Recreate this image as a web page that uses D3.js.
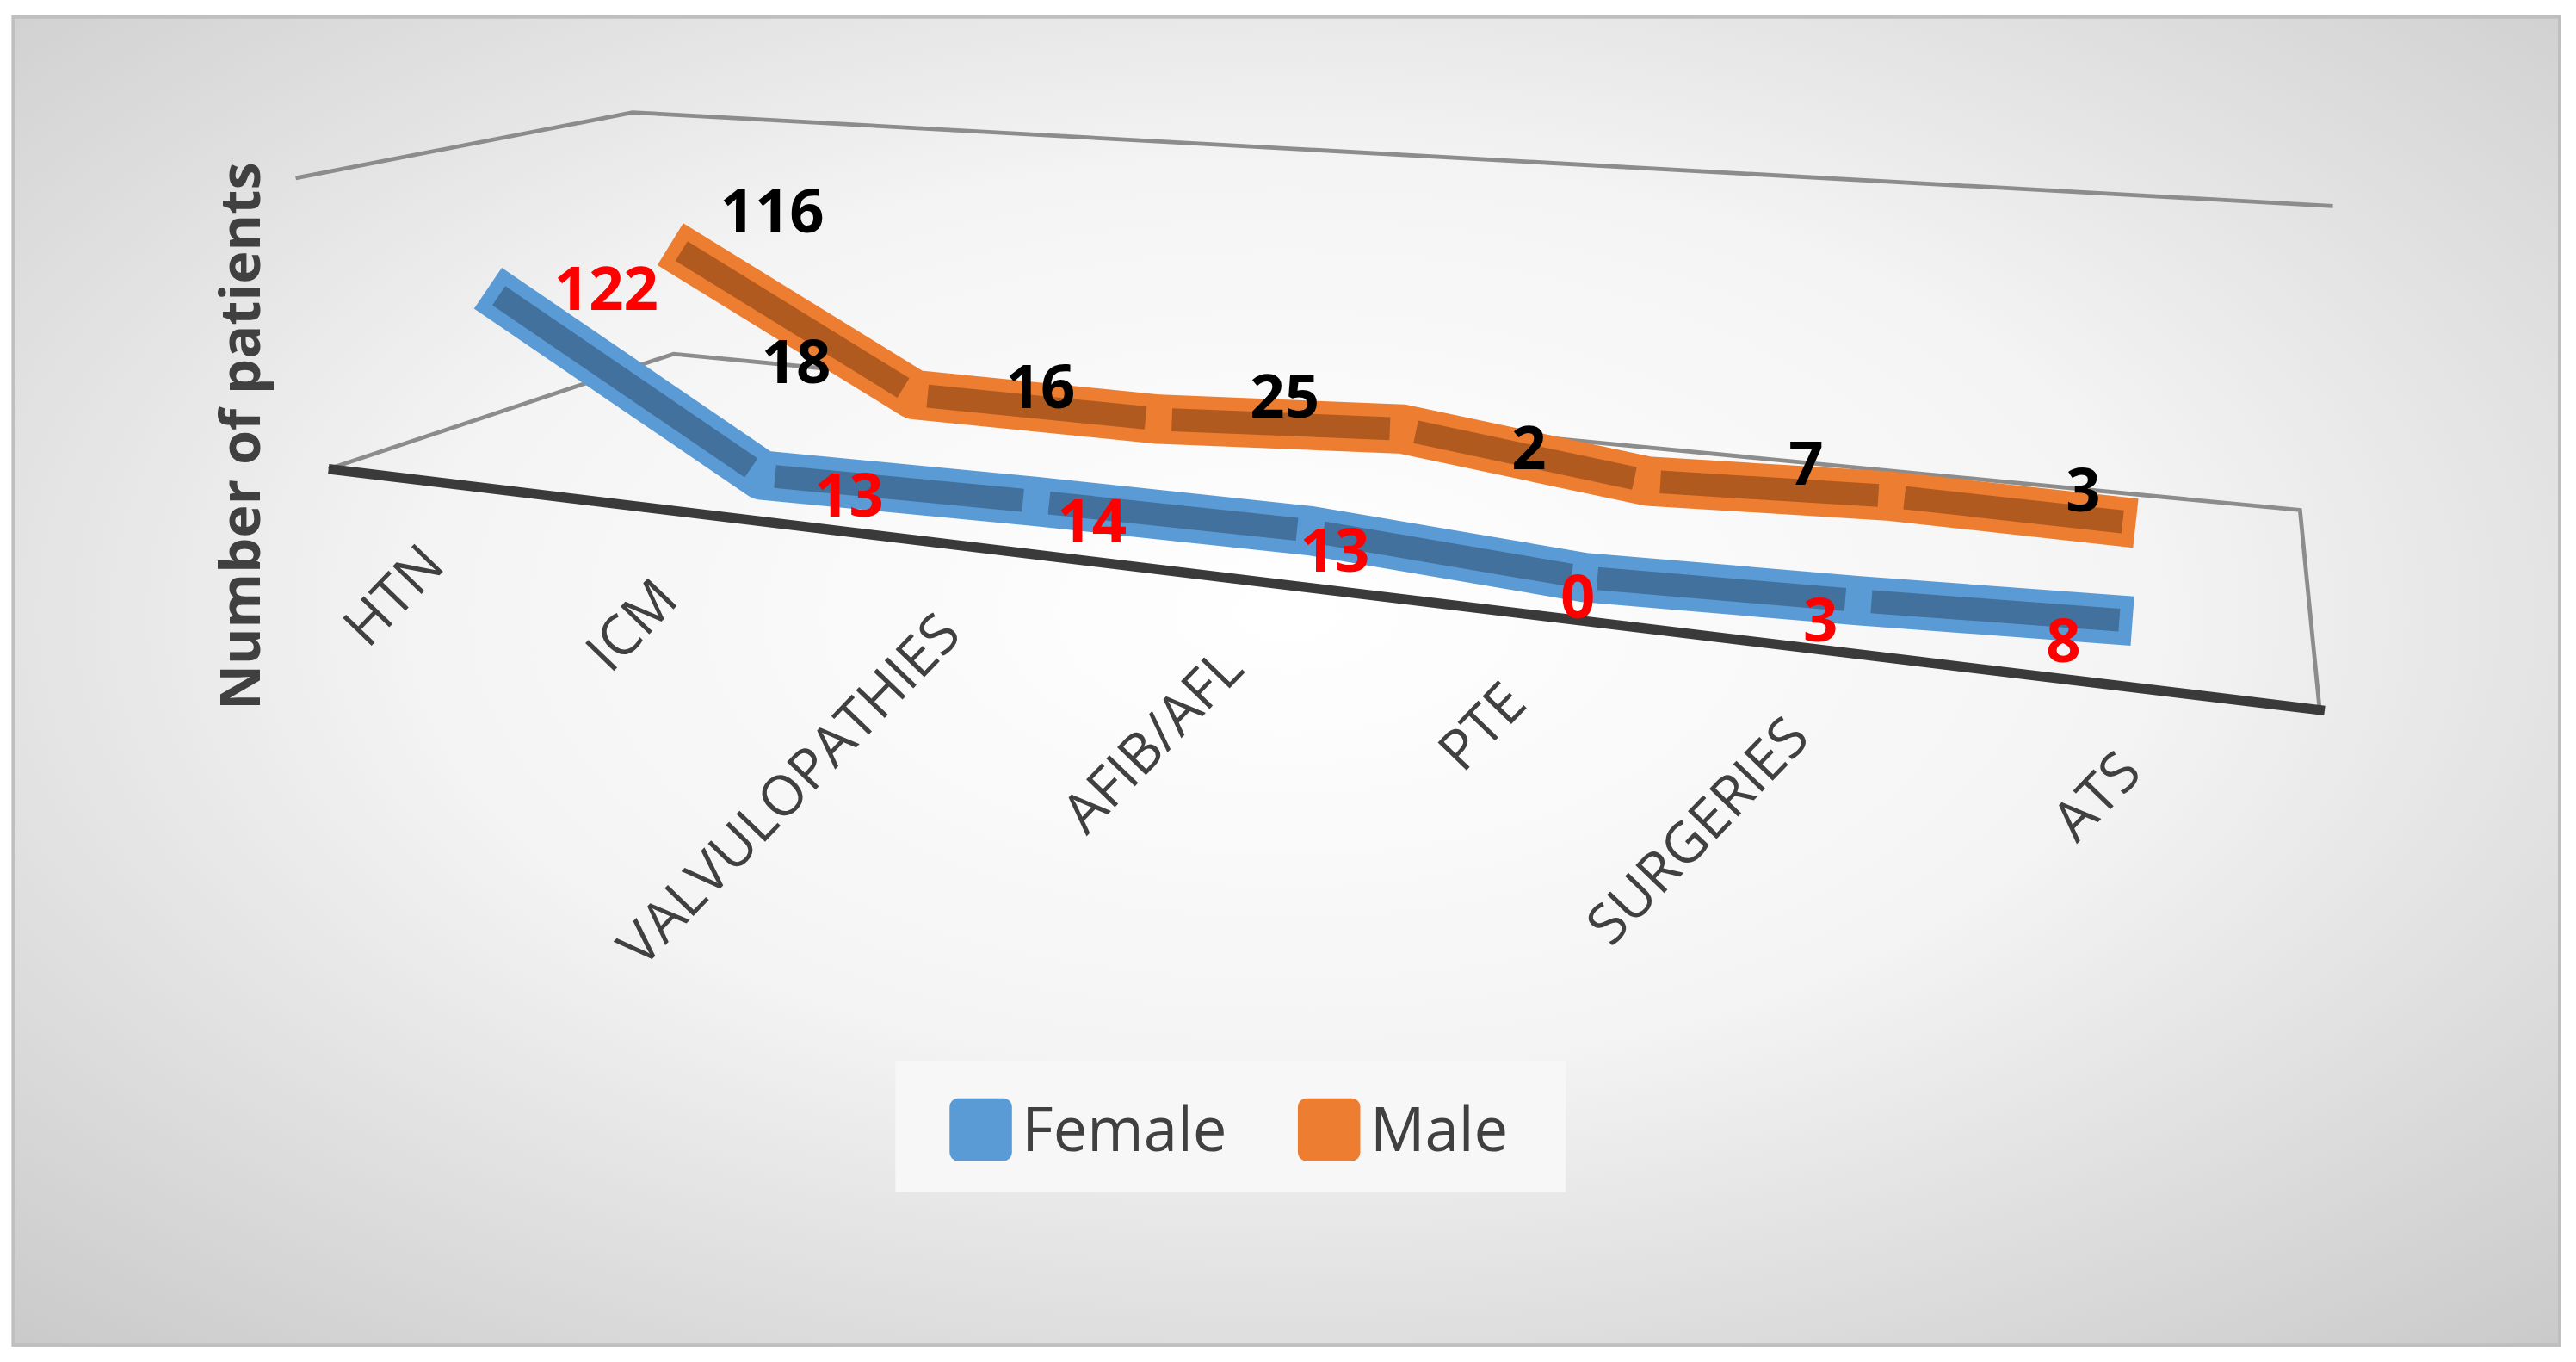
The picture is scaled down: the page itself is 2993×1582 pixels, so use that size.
<!DOCTYPE html>
<html><head><meta charset="utf-8">
<script src="https://cdn.jsdelivr.net/npm/d3@7"></script>
<style>html,body{margin:0;padding:0;background:#fff}</style>
</head><body>
<script>
const categories = ["HTN","ICM","VALVULOPATHIES","AFIB/AFL","PTE","SURGERIES","ATS"];
const female = [122,13,14,13,0,3,8];
const male = [116,18,16,25,2,7,3];
const seriesNames = ["Female","Male"];

const W = 1568, H = 828;
const svg = d3.select("body").append("svg")
  .attr("width", 2993).attr("height", 1582)
  .attr("viewBox", `0 0 ${W} ${H}`);

const defs = svg.append("defs");
const rg = defs.append("radialGradient").attr("id","bg").attr("cx","50%").attr("cy","45%").attr("r","75%");
rg.append("stop").attr("offset","0%").attr("stop-color","#ffffff");
rg.append("stop").attr("offset","45%").attr("stop-color","#f4f4f4");
rg.append("stop").attr("offset","100%").attr("stop-color","#c9c9c9");
svg.append("rect").attr("x",8).attr("y",10).attr("width",1550).attr("height",808)
  .attr("fill","url(#bg)").attr("stroke","#bfbfbf").attr("stroke-width",2);

const gray = "#8c8c8c";
const line = d3.line();
svg.append("path").attr("d", line([[180,108],[385,68],[1420,125]])).attr("fill","none").attr("stroke",gray).attr("stroke-width",2.5);
svg.append("path").attr("d", line([[200,285],[410,215],[1400,310],[1412,432]])).attr("fill","none").attr("stroke",gray).attr("stroke-width",2.5);
svg.append("path").attr("d", line([[200,285],[1415,432]])).attr("fill","none").attr("stroke","#3a3a3a").attr("stroke-width",6);

const specs = [
  {vals: female, x: d3.scalePoint().domain(categories).range([297,1298]), x0:440, y0:298, slope:0.101, k:0.89,
   outer:"#5B9BD5", inner:"#41719C", label:"#ff0000", ldx:i=>72-19*i, ldy:i=>i==0?0:12},
  {vals: male, x: d3.scalePoint().domain(categories).range([408,1300]), x0:520, y0:251, slope:0.089, k:0.80,
   outer:"#ED7D31", inner:"#B05A20", label:"#000000", ldx:i=>i==0?62:(i<5?-72:-72+20*(i-4)), ldy:i=>-20}
];
[specs[1], specs[0]].forEach(s => {
  const y = d3.scaleLinear().domain([0,150]).range([0,150*s.k]);
  const pts = categories.map((c,i) => {
    const px = s.x(c);
    const floor = s.y0 + (px - s.x0)*s.slope;
    return [px, floor - y(s.vals[i])];
  });
  svg.append("path").attr("d", line(pts)).attr("fill","none").attr("stroke",s.outer)
    .attr("stroke-width",30).attr("stroke-linejoin","round").attr("stroke-linecap","butt");
  for (let i=0;i<pts.length-1;i++){
    const a=pts[i], b=pts[i+1];
    const dx=b[0]-a[0], dy=b[1]-a[1], L=Math.hypot(dx,dy);
    const g=8/L;
    svg.append("line").attr("x1",a[0]+dx*g).attr("y1",a[1]+dy*g).attr("x2",b[0]-dx*g).attr("y2",b[1]-dy*g)
      .attr("stroke",s.inner).attr("stroke-width",14);
  }
  s.pts = pts;
});
[specs[1], specs[0]].forEach(s => {
  svg.append("g").selectAll("text").data(s.vals).join("text")
    .attr("x",(d,i)=>s.pts[i][0]+s.ldx(i)).attr("y",(d,i)=>s.pts[i][1]+s.ldy(i)+13)
    .attr("text-anchor","middle").attr("font-family","Open Sans, sans-serif").attr("font-weight","bold")
    .attr("font-size",37).attr("fill",s.label).text(d=>d);
});

const lx = d3.scalePoint().domain(categories).range([272,1305]);
svg.append("g").selectAll("text").data(categories).join("text")
  .attr("transform",(d,i)=>`translate(${lx(d) - (i>0 && i<6 ? 30 : 0)},${345+i*21}) rotate(-46)`)
  .attr("text-anchor","end").attr("font-family","Open Sans, sans-serif").attr("font-size",34)
  .attr("fill","#404040").text(d=>d);

svg.append("text").attr("transform","translate(158,265) rotate(-90)").attr("text-anchor","middle")
  .attr("font-family","Open Sans, sans-serif").attr("font-weight","bold").attr("font-size",34)
  .attr("fill","#404040").text("Number of patients");

const lg = svg.append("g");
lg.append("rect").attr("x",545).attr("y",645).attr("width",408).attr("height",80).attr("fill","#f7f7f7");
const legX = [578,790];
lg.selectAll("rect.sw").data(seriesNames).join("rect").attr("class","sw")
  .attr("x",(d,i)=>legX[i]).attr("y",668).attr("width",38).attr("height",38).attr("rx",5)
  .attr("fill",(d,i)=>[specs[0].outer,specs[1].outer][i]);
lg.selectAll("text").data(seriesNames).join("text")
  .attr("x",(d,i)=>legX[i]+44).attr("y",700).attr("font-family","Open Sans, sans-serif")
  .attr("font-size",37).attr("fill","#404040").text(d=>d);
</script>
</body></html>
